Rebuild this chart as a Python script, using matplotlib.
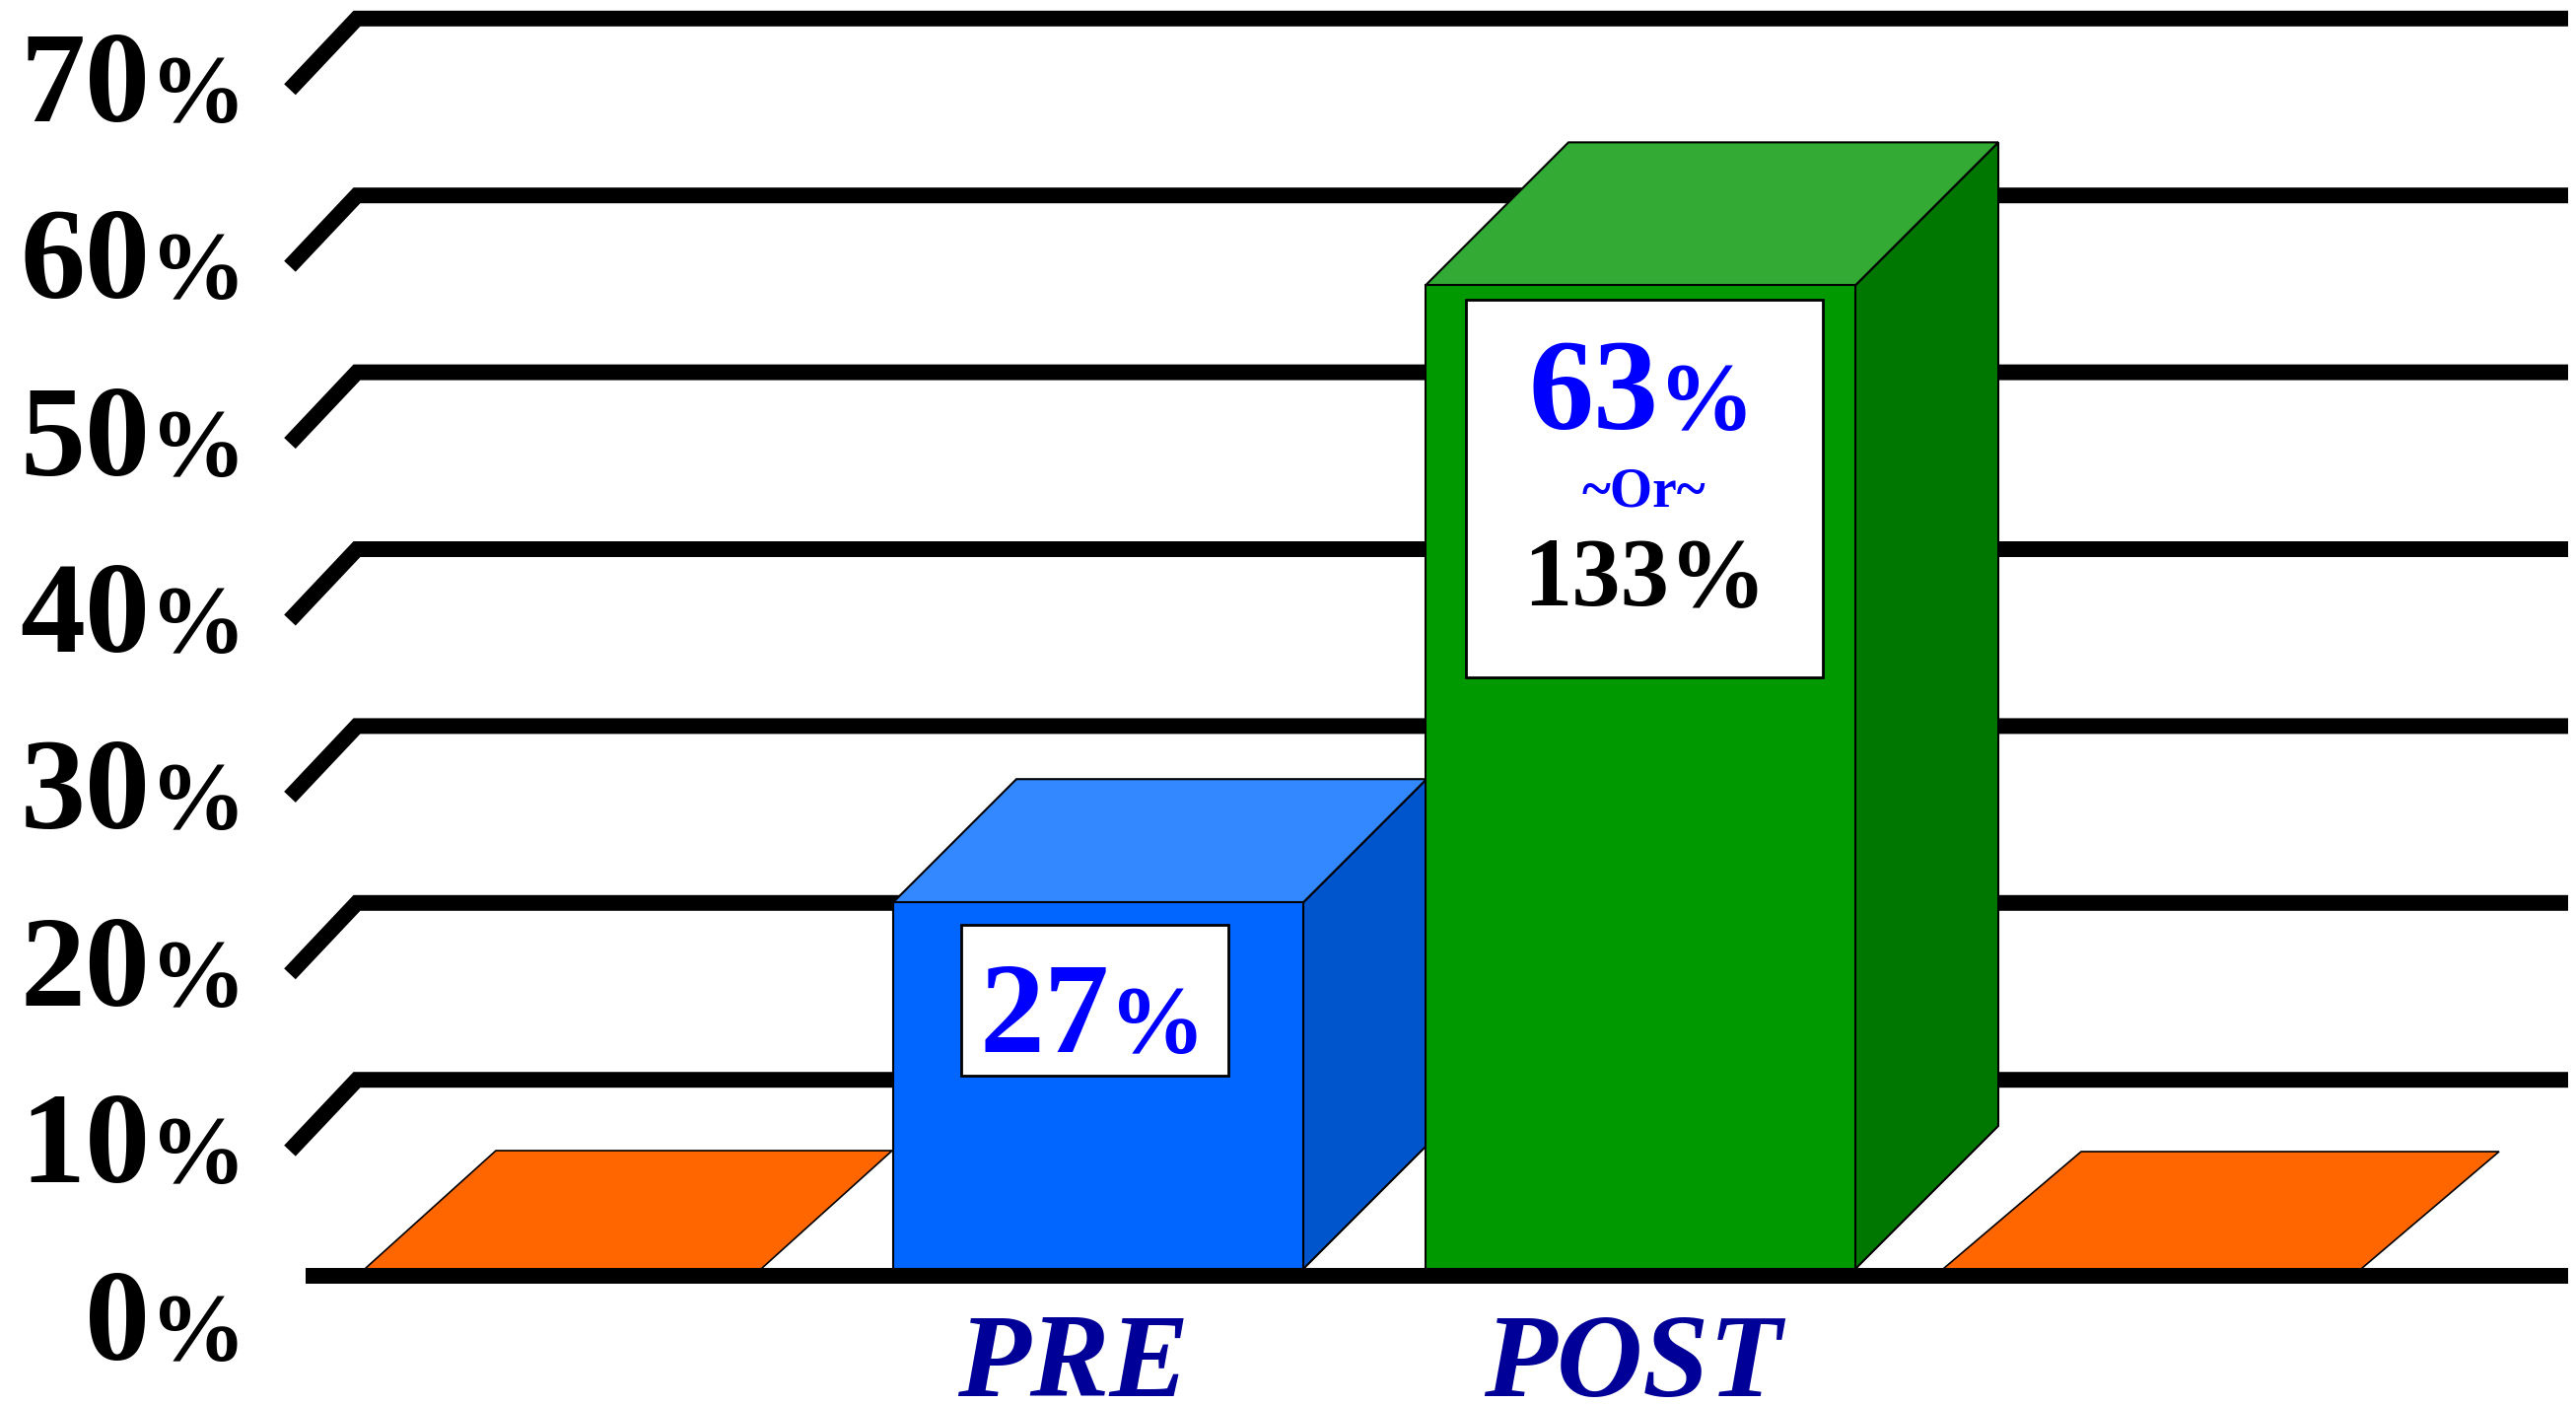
import matplotlib
matplotlib.use("Agg")
import matplotlib.pyplot as plt
from matplotlib.patches import Polygon, Rectangle

SERIF = ['Liberation Serif', 'DejaVu Serif']
plt.rcParams['font.family'] = SERIF

# data
categories = ["", "PRE", "POST", ""]
values = [0, 27, 63, 0]
box_values = ["", "27", "63", ""]
post_alt = "133%"
ticks = [0, 10, 20, 30, 40, 50, 60, 70]

# layout (pixels of the 2613x1424 canvas)
W, H = 2613, 1424
PX = 17.94        # pixels per percent on the back wall
ZERO = 1274.6     # pixel row of 0 % on the back wall

front_left = [370, 906, 1446, 1971]
front_width = [402, 416, 436, 424]
depth_x = [133, 125, 145, 140]
depth_y = [120, 125, 145, 119]

front_col = ['#FF6600', '#0066FF', '#009900', '#FF6600']
top_col = ['#FF6600', '#3388FF', '#33AA33', '#FF6600']
side_col = [None, '#0055CC', '#007700', None]

fig = plt.figure(figsize=(W / 100, H / 100), dpi=100)
ax = fig.add_axes([0, 0, 1, 1])
ax.set_xlim(0, W)
ax.set_ylim((ZERO - H) / PX, ZERO / PX)
ax.axis('off')


def p(px):
    # pixel height -> percent units
    return px / PX


def row(y_px):
    return (ZERO - y_px) / PX


renderer = fig.canvas.get_renderer()


def split_text(x, y, big, small, size, color, ha='center', small_ratio=0.74):
    # big digits followed by a smaller percent sign, sharing one baseline
    kw = dict(color=color, fontweight='bold', va='baseline', ha='left', zorder=10, family=SERIF)
    t1 = ax.text(0, y, big, fontsize=size, **kw)
    t2 = ax.text(0, y, small, fontsize=size * small_ratio, **kw)
    w1 = t1.get_window_extent(renderer).width
    w2 = t2.get_window_extent(renderer).width
    if ha == 'center':
        x0 = x - (w1 + w2) / 2
    else:
        x0 = x - w1 - w2
    t1.set_x(x0)
    t2.set_x(x0 + w1)


# back wall gridlines with the little side-wall stubs
back_x = 362
for v in ticks[1:]:
    ax.plot([back_x - 68, back_x, 2605], [v - p(72), v, v], color='black',
            lw=11.5, solid_joinstyle='miter', solid_capstyle='butt', zorder=1)

# tick labels
for v in ticks:
    split_text(250, v - p(104), str(v), '%', 95, 'black', ha='right')

# floor line
floor = row(1287)
ax.plot([310, 2605], [row(1294), row(1294)], color='black', lw=11.5,
        solid_capstyle='butt', zorder=4)

# bars
for i, v in enumerate(values):
    x0, w, dx, dy = front_left[i], front_width[i], depth_x[i], depth_y[i]
    if v == 0:
        top = [(x0, floor), (x0 + w, floor), (x0 + w + dx, floor + p(dy)), (x0 + dx, floor + p(dy))]
        ax.add_patch(Polygon(top, closed=True, facecolor=top_col[i], edgecolor='black', lw=1.2, zorder=2))
        continue
    ft = v - p(dy)
    front = Rectangle((x0, floor), w, ft - floor, facecolor=front_col[i], edgecolor='black', lw=1.5, zorder=3)
    top = Polygon([(x0, ft), (x0 + w, ft), (x0 + w + dx, v), (x0 + dx, v)], closed=True,
                  facecolor=top_col[i], edgecolor='black', lw=1.5, zorder=3)
    side = Polygon([(x0 + w, floor), (x0 + w, ft), (x0 + w + dx, v), (x0 + w + dx, floor + p(dy))], closed=True,
                   facecolor=side_col[i], edgecolor='black', lw=1.5, zorder=3)
    for patch in (side, top, front):
        ax.add_patch(patch)

# value boxes
ax.add_patch(Rectangle((975, row(1091)), 1246 - 975, p(1091 - 938), facecolor='white',
                       edgecolor='black', lw=2, zorder=5))
split_text(1108, row(1067), box_values[1], '%', 95, '#0000FF')

ax.add_patch(Rectangle((1487, row(687)), 1849 - 1487, p(687 - 304), facecolor='white',
                       edgecolor='black', lw=2, zorder=5))
split_text(1665, row(435), box_values[2], '%', 95, '#0000FF')
ax.text(1667, row(513), '~Or~', fontsize=40, fontweight='bold', color='#0000FF',
        ha='center', va='baseline', zorder=10, family=SERIF)
ax.text(1668, row(613), post_alt, fontsize=71, fontweight='bold', color='black',
        ha='center', va='baseline', zorder=10, family=SERIF)

# category labels
label_x = [None, 1089, 1656, None]
for i, name in enumerate(categories):
    if name:
        ax.text(label_x[i], row(1416), name, fontsize=87, fontweight='bold', fontstyle='italic',
                color='#000099', ha='center', va='baseline', zorder=10, family=SERIF)

fig.savefig('out.png', dpi=100)
